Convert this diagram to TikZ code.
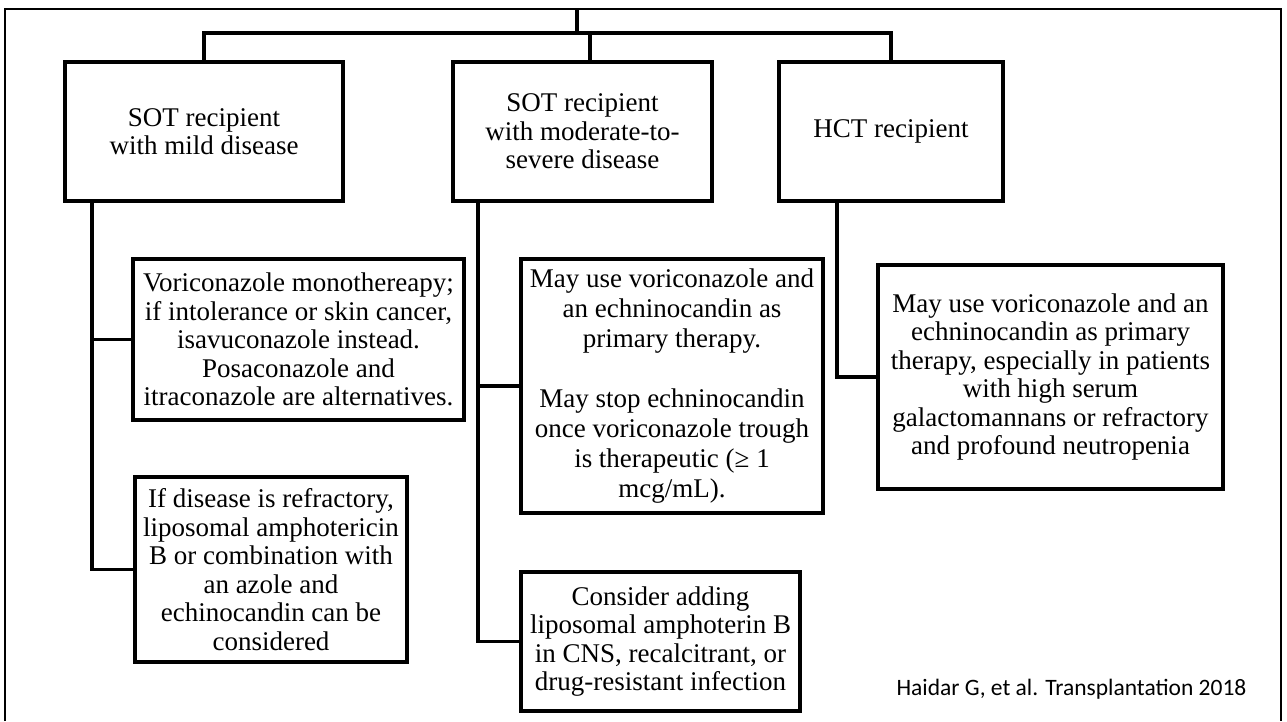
\documentclass[tikz,border=0pt]{standalone}
\usepackage{fontspec}
\setmainfont{Liberation Serif}
\newfontfamily\reffont{Carlito}
\begin{document}
\begin{tikzpicture}[x=1pt,y=-1pt,
  box/.style={draw, line width=3.5pt, inner sep=0pt, align=center, font=\fontsize{27}{28.5}\selectfont},
  link/.style={line width=3.8pt},
  frame/.style={line width=2.5pt}]
\useasboundingbox (0,0) rectangle (1287,721);
% outer frame
\draw[frame] (5,721) -- (5,9) -- (1281,9) -- (1281,721);
% top level boxes
\node[box, minimum width=278pt, minimum height=139pt] (A) at (204,131.5) {SOT recipient\\with mild disease};
\node[box, minimum width=259pt, minimum height=139pt] (B) at (582.5,131.5) {SOT recipient\\with moderate-to-\\severe disease};
\node[box, minimum width=224pt, minimum height=139pt] (C) at (891,131.5) {HCT recipient};
% second level boxes
\node[box, minimum width=331pt, minimum height=161pt] (A1) at (298.5,339.5) {Voriconazole monothereapy;\\if intolerance or skin cancer,\\isavuconazole instead.\\Posaconazole and\\itraconazole are alternatives.};
\node[box, minimum width=272pt, minimum height=185pt] (A2) at (271,569.5) {If disease is refractory,\\liposomal amphotericin\\B or combination with\\an azole and\\echinocandin can be\\considered};
\node[box, minimum width=302pt, minimum height=254pt, font=\fontsize{27}{30}\selectfont] (B1) at (672,386) {May use voriconazole and\\an echninocandin as\\primary therapy.\\[30pt]May stop echninocandin\\once voriconazole trough\\is therapeutic (≥ 1\\mcg/mL).};
\node[box, minimum width=279pt, minimum height=139pt] (B2) at (660.5,641.5) {Consider adding\\liposomal amphoterin B\\in CNS, recalcitrant, or\\drug-resistant infection};
\node[box, minimum width=345pt, minimum height=224pt] (C1) at (1050.5,377) {May use voriconazole and an\\echninocandin as primary\\therapy, especially in patients\\with high serum\\galactomannans or refractory\\and profound neutropenia};
% citation
\node[anchor=base, inner sep=0pt, font=\reffont\fontsize{23.5}{27}\selectfont] (cite) at (1071.5,695) {Haidar G, et al. Transplantation 2018};
% connectors
\coordinate (root) at (577,9);
\coordinate (j) at (577,33);
\coordinate (bt) at ([xshift=7.5pt]B.north);
\draw[link] (root) -- (j);
\draw[link] (A.north) -- (A.north |- j) -- (C.north |- j) -- (C.north);
\draw[link] (bt) -- (bt |- j);
\coordinate (a0) at ([xshift=29pt]A.south west);
\coordinate (b0) at ([xshift=27pt]B.south west);
\coordinate (c0) at ([xshift=60pt]C.south west);
\draw[link] (a0) |- (A1.west);
\draw[link] (a0) |- (A2.west);
\draw[link] (b0) |- (B1.west);
\draw[link] (b0) |- (B2.west);
\draw[link] (c0) |- (C1.west);
\end{tikzpicture}
\end{document}
